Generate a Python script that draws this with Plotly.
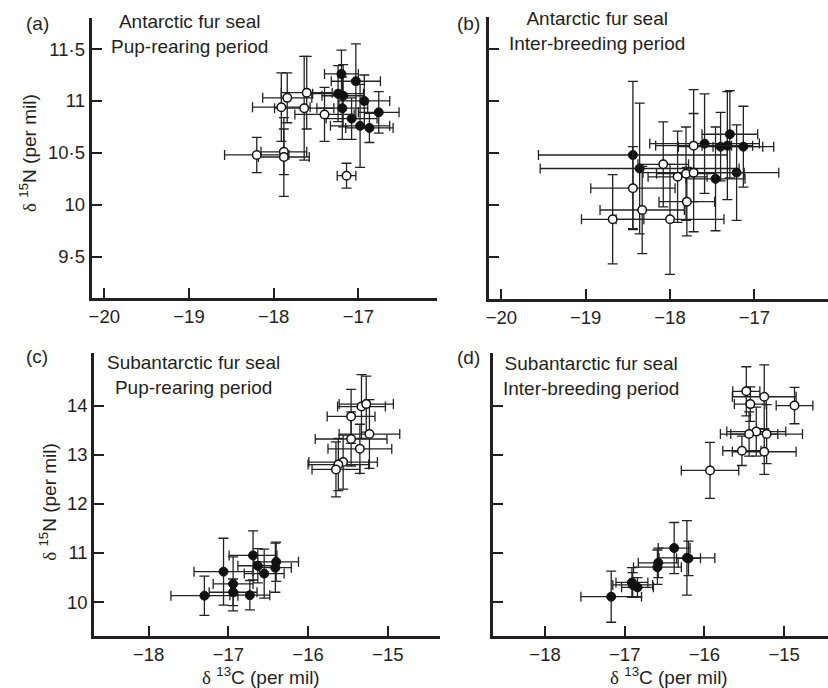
import plotly.graph_objects as go

W, H = 828, 688
FONT = "Liberation Sans, Arial, sans-serif"
TXT = "#231f20"

# ---------------- data ----------------
# (a) Antarctic fur seal, pup-rearing
a_open_x = [-18.20, -17.88, -17.88, -17.91, -17.84, -17.61, -17.64, -17.40, -17.14]
a_open_y = [10.48, 10.51, 10.46, 10.94, 11.03, 11.08, 10.93, 10.87, 10.28]
a_open_xe = [0.38, 0.27, 0.30, 0.34, 0.29, 0.30, 0.35, 0.35, 0.11]
a_open_ye = [0.17, 0.22, 0.38, 0.33, 0.24, 0.35, 0.50, 0.26, 0.12]
a_fill_x = [-17.20, -17.03, -17.24, -17.18, -16.93, -17.19, -16.76, -17.08, -16.98, -16.87]
a_fill_y = [11.26, 11.19, 11.07, 11.05, 11.00, 10.93, 10.89, 10.83, 10.76, 10.74]
a_fill_xe = [0.20, 0.29, 0.30, 0.25, 0.30, 0.30, 0.24, 0.30, 0.35, 0.28]
a_fill_ye = [0.23, 0.36, 0.27, 0.30, 0.25, 0.30, 0.20, 0.20, 0.40, 0.14]

# (b) Antarctic fur seal, inter-breeding
b_open_x = [-17.72, -18.08, -17.91, -17.81, -17.72, -18.44, -18.33, -17.80, -18.68, -18.00]
b_open_y = [10.57, 10.39, 10.27, 10.30, 10.31, 10.16, 9.95, 10.03, 9.86, 9.86]
b_open_xe = [0.45, 0.30, 0.35, 0.35, 0.60, 0.50, 0.50, 0.33, 0.37, 0.64]
b_open_ye = [0.54, 0.41, 0.44, 0.45, 0.57, 0.40, 0.42, 0.33, 0.43, 0.53]
b_fill_x = [-18.44, -18.36, -17.59, -17.40, -17.32, -17.29, -17.13, -17.46, -17.21]
b_fill_y = [10.48, 10.35, 10.59, 10.56, 10.57, 10.68, 10.56, 10.25, 10.31]
b_fill_xe = [1.12, 1.18, 0.65, 0.50, 0.30, 0.33, 0.36, 0.35, 0.50]
b_fill_ye = [0.71, 0.63, 0.48, 0.33, 0.52, 0.42, 0.39, 0.50, 0.46]

# (c) Subantarctic fur seal, pup-rearing
c_open_x = [-15.33, -15.27, -15.46, -15.23, -15.46, -15.35, -15.56, -15.62, -15.65]
c_open_y = [13.98, 14.03, 13.78, 13.42, 13.32, 13.12, 12.85, 12.80, 12.70]
c_open_xe = [0.30, 0.34, 0.30, 0.38, 0.45, 0.40, 0.43, 0.38, 0.30]
c_open_ye = [0.65, 0.57, 0.55, 0.70, 0.55, 0.50, 0.55, 0.53, 0.56]
c_fill_x = [-17.30, -17.06, -16.94, -16.94, -16.73, -16.69, -16.63, -16.55, -16.40, -16.41]
c_fill_y = [10.13, 10.62, 10.37, 10.20, 10.14, 10.95, 10.74, 10.58, 10.82, 10.70]
c_fill_xe = [0.42, 0.37, 0.25, 0.30, 0.25, 0.30, 0.25, 0.25, 0.28, 0.20]
c_fill_ye = [0.40, 0.68, 0.55, 0.27, 0.30, 0.50, 0.35, 0.50, 0.40, 0.50]

# (d) Subantarctic fur seal, inter-breeding
d_open_x = [-15.475, -15.25, -15.425, -14.87, -15.35, -15.44, -15.22, -15.53, -15.25, -15.93]
d_open_y = [14.29, 14.18, 14.03, 14.00, 13.47, 13.42, 13.42, 13.08, 13.06, 12.68]
d_open_xe = [0.17, 0.40, 0.20, 0.23, 0.37, 0.36, 0.45, 0.24, 0.40, 0.36]
d_open_ye = [0.50, 0.65, 0.35, 0.37, 0.50, 0.45, 0.60, 0.30, 0.46, 0.57]
d_fill_x = [-17.17, -16.91, -16.90, -16.84, -16.58, -16.59, -16.38, -16.22, -16.20]
d_fill_y = [10.11, 10.40, 10.35, 10.30, 10.80, 10.71, 11.10, 10.90, 10.89]
d_fill_xe = [0.38, 0.20, 0.25, 0.20, 0.25, 0.30, 0.20, 0.35, 0.15]
d_fill_ye = [0.52, 0.30, 0.25, 0.20, 0.30, 0.35, 0.52, 0.76, 0.35]

ticks_top_x = [-20, -19, -18, -17]
ticks_bot_x = [-18, -17, -16, -15]
ticks_top_y = [9.5, 10, 10.5, 11, 11.5]
ticks_top_y_text = ["9·5", "10", "10·5", "11", "11·5"]
ticks_bot_y = [10, 11, 12, 13, 14]

# ---------------- helpers ----------------
def fx(px):
    return px / W

def fy(py):
    return 1 - py / H

def err(arr):
    return dict(type="data", array=arr, symmetric=True, thickness=1.3,
                width=5, color="#222222")

fig = go.Figure()

panels = [
    ("x", "y", a_fill_x, a_fill_y, a_fill_xe, a_fill_ye, a_open_x, a_open_y, a_open_xe, a_open_ye),
    ("x2", "y2", b_fill_x, b_fill_y, b_fill_xe, b_fill_ye, b_open_x, b_open_y, b_open_xe, b_open_ye),
    ("x3", "y3", c_fill_x, c_fill_y, c_fill_xe, c_fill_ye, c_open_x, c_open_y, c_open_xe, c_open_ye),
    ("x4", "y4", d_fill_x, d_fill_y, d_fill_xe, d_fill_ye, d_open_x, d_open_y, d_open_xe, d_open_ye),
]
for xa, ya, fxv, fyv, fxe, fye, ox, oy, oxe, oye in panels:
    fig.add_trace(go.Scatter(x=fxv, y=fyv, mode="markers", xaxis=xa, yaxis=ya,
                             error_x=err(fxe), error_y=err(fye),
                             marker=dict(symbol="circle", size=9, color="#111111",
                                         line=dict(color="#111111", width=1)),
                             showlegend=False))
    fig.add_trace(go.Scatter(x=ox, y=oy, mode="markers", xaxis=xa, yaxis=ya,
                             error_x=err(oxe), error_y=err(oye),
                             marker=dict(symbol="circle", size=8.5, color="white",
                                         line=dict(color="#111111", width=1.5)),
                             showlegend=False))

axis_common = dict(showline=True, linewidth=3, linecolor="#231f20", ticks="inside",
                   ticklen=10, tickwidth=2, tickcolor="#231f20", showgrid=False,
                   zeroline=False, tickfont=dict(family=FONT, size=18.5, color=TXT),
                   fixedrange=True)

# pixel geometry of each panel
fig.update_layout(
    xaxis=dict(domain=[fx(89), fx(436)], range=[-20.149, -16.067], anchor="y",
               tickvals=ticks_top_x, **axis_common),
    yaxis=dict(domain=[fy(298), fy(18)], range=[9.102, 11.799], anchor="x",
               tickvals=ticks_top_y, ticktext=ticks_top_y_text, **axis_common),
    xaxis2=dict(domain=[fx(487.5), fx(828)], range=[-20.15, -16.126], anchor="y2",
                tickvals=ticks_top_x, **axis_common),
    yaxis2=dict(domain=[fy(299), fy(17)], range=[9.092, 11.81], anchor="x2",
                tickvals=ticks_top_y, showticklabels=False, **axis_common),
    xaxis3=dict(domain=[fx(91.7), fx(439)], range=[-18.68, -14.34], anchor="y3",
                tickvals=ticks_bot_x, **axis_common),
    yaxis3=dict(domain=[fy(636), fy(353)], range=[9.31, 15.07], anchor="x3",
                tickvals=ticks_bot_y, **axis_common),
    xaxis4=dict(domain=[fx(491.3), fx(828)], range=[-18.659, -14.45], anchor="y4",
                tickvals=ticks_bot_x, **axis_common),
    yaxis4=dict(domain=[fy(636), fy(353)], range=[9.31, 15.07], anchor="x4",
                tickvals=ticks_bot_y, showticklabels=False, **axis_common),
)

DELTA = '<span style="font-family:Liberation Serif, Times New Roman, serif">δ</span>'
ylab = DELTA + " <sup>15</sup>N (per mil)"
xlab = DELTA + " <sup>13</sup>C (per mil)"

ann = []
def text(px, py, s, angle=0, size=19):
    ann.append(dict(x=fx(px), y=fy(py), xref="paper", yref="paper", text=s,
                    showarrow=False, textangle=angle, xanchor="center", yanchor="middle",
                    font=dict(family=FONT, size=size, color=TXT)))

text(35, 24, "(a)")
text(467, 24, "(b)")
text(34, 356, "(c)")
text(467, 357, "(d)")
text(187, 33.5, "Antarctic fur seal<br>Pup-rearing period")
text(596, 31, "Antarctic fur seal<br>Inter-breeding period")
text(191, 374.5, "Subantarctic fur seal<br>Pup-rearing period")
text(590, 375.5, "Subantarctic fur seal<br>Inter-breeding period")
text(25, 153, ylab, angle=-90)
text(45, 502, ylab, angle=-90)
text(259, 676, xlab)
text(668, 676, xlab)

fig.update_layout(width=W, height=H, margin=dict(l=0, r=0, t=0, b=0),
                  paper_bgcolor="white", plot_bgcolor="white", annotations=ann,
                  showlegend=False)

fig.write_html("out.html", config={"displayModeBar": False},
               post_script="document.body.style.margin='0';document.body.style.overflow='hidden';")
